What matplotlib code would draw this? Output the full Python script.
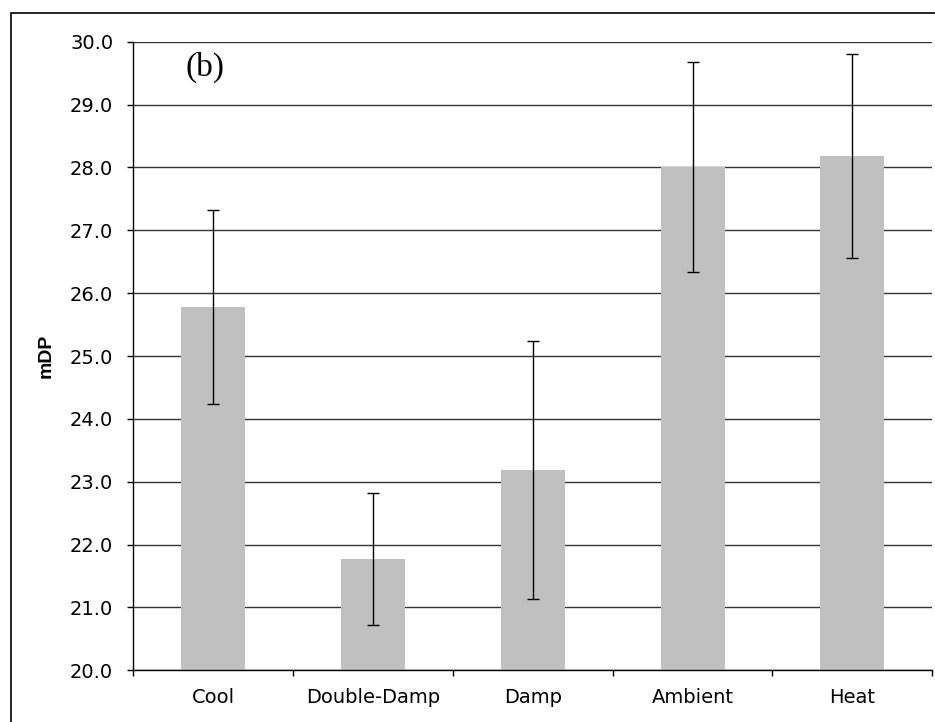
import numpy as np
import matplotlib
matplotlib.use("Agg")
import matplotlib.pyplot as plt
from matplotlib.patches import Rectangle

# values
categories = ["Cool", "Double-Damp", "Damp", "Ambient", "Heat"]
means = [25.78, 21.77, 23.19, 28.0, 28.18]
errors = [1.54, 1.05, 2.05, 1.67, 1.62]
y_ticks = [20, 21, 22, 23, 24, 25, 26, 27, 28, 29, 30]

plt.rcParams["font.family"] = ["DejaVu Sans"]

fig = plt.figure(figsize=(9.35, 7.22), dpi=100)
ax = fig.add_axes([0.1426, 0.0716, 0.9971 - 0.1426, 0.9422 - 0.0716])

x = np.arange(len(categories))
ax.bar(x, means, width=0.40, bottom=0, color="#c0c0c0", zorder=2)
ax.errorbar(x, means, yerr=errors, fmt="none", ecolor="black",
            elinewidth=1.0, capsize=4, capthick=1.0, zorder=3)

ax.set_xlim(-0.5, len(categories) - 0.5)
ax.set_ylim(20, 30)
ax.set_yticks(y_ticks)
ax.set_yticklabels([f"{v:.1f}" for v in y_ticks])
ax.yaxis.grid(True, color="#333333", linewidth=1.0, zorder=0)
ax.set_axisbelow(True)

# category labels centred, tick marks on the boundaries (Excel style)
ax.set_xticks(x)
ax.set_xticklabels(categories)
ax.set_xticks(np.arange(len(categories) + 1) - 0.5, minor=True)
ax.tick_params(axis="x", which="major", length=0, pad=13, labelsize=14)
ax.tick_params(axis="x", which="minor", length=4, width=1.0, direction="out")
ax.tick_params(axis="y", length=4.5, width=1.0, direction="out", pad=10,
               labelsize=14)

for side in ["top", "right"]:
    ax.spines[side].set_visible(False)
for side in ["left", "bottom"]:
    ax.spines[side].set_linewidth(1.0)

ax.set_ylabel("mDP", fontsize=14, fontweight="bold", va="center",
              family=["Liberation Sans", "DejaVu Sans"])
ax.yaxis.set_label_coords(-0.109, 0.5)

ax.text(0.0647, 0.959, "(b)", transform=ax.transAxes, ha="left", va="center",
        fontsize=24, family=["Liberation Serif", "DejaVu Serif"])

# outer frame of the chart area (cut off at right and bottom)
fig.patches.append(Rectangle((11 / 935, -0.05), 1.2, 1 - 13 / 722 + 0.05,
                             transform=fig.transFigure, fill=False,
                             edgecolor="black", linewidth=1.2))

fig.savefig("out.png", dpi=100)
